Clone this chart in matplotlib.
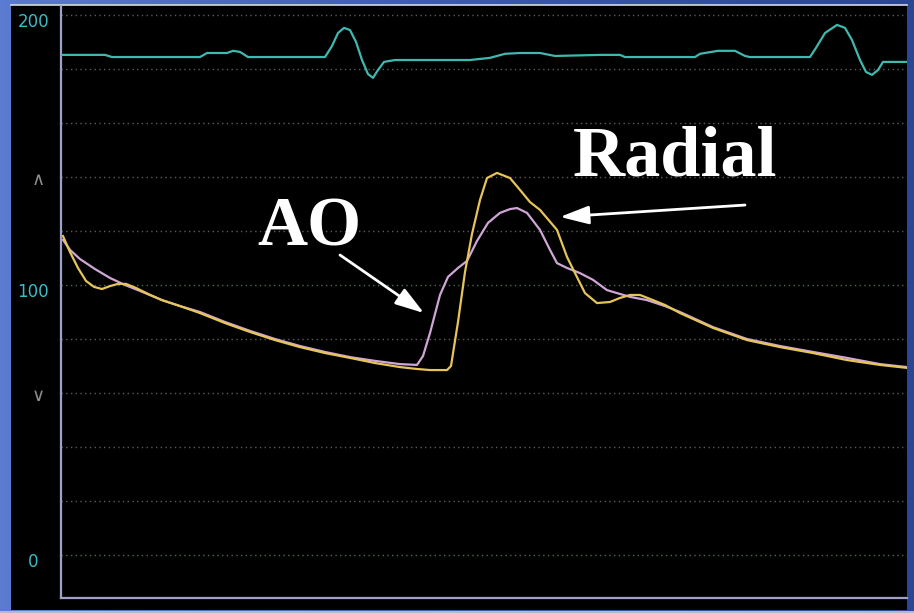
import numpy as np
import matplotlib
matplotlib.use("Agg")
import matplotlib.pyplot as plt
from matplotlib.patches import Rectangle
from matplotlib.colors import LinearSegmentedColormap
from matplotlib.transforms import blended_transform_factory, ScaledTranslation

# ---------------- data (time in ms, pressure in mmHg) ----------------
radial_t = [4, 18, 34, 50, 66, 82, 98, 114, 130, 150, 174, 202, 238, 278, 328, 378, 428, 478, 528, 578,
            628, 678, 712, 738, 772, 780, 794, 808, 822, 838, 852, 872, 898, 918, 938, 958, 992, 1012, 1028, 1048,
            1072, 1098, 1118, 1138, 1158, 1184, 1208, 1238, 1304, 1372, 1438, 1504, 1572, 1638, 1692]
radial_p = [118.1, 112.2, 106.3, 101.5, 99.3, 98.5, 99.6, 100.4, 100.4, 98.9, 96.7, 94.4, 92.2, 89.6, 85.9, 82.6, 79.6, 77.0, 74.8, 73.0,
            71.1, 69.6, 68.9, 68.5, 68.5, 70.0, 86.3, 104.8, 118.9, 131.5, 139.6, 141.5, 139.6, 135.2, 130.7, 127.8, 120.4, 110.4, 104.4, 97.0,
            93.3, 93.7, 95.2, 96.3, 96.3, 94.4, 92.6, 89.6, 84.1, 79.6, 77.0, 74.8, 72.2, 70.4, 69.3]

ao_t = [4, 18, 38, 68, 98, 128, 158, 202, 238, 278, 328, 378, 428, 478, 528, 578, 628, 678, 712, 724,
        738, 758, 774, 794, 812, 832, 854, 878, 898, 912, 932, 958, 978, 992, 1012, 1038, 1064, 1092, 1112, 1138,
        1172, 1208, 1238, 1304, 1372, 1438, 1504, 1572, 1638, 1692]
ao_p = [116.7, 113.0, 109.6, 105.9, 102.6, 100.0, 97.8, 94.4, 92.2, 90.0, 86.3, 83.0, 80.0, 77.4, 75.2, 73.3, 71.9, 70.7, 70.4, 73.7,
        82.2, 96.3, 103.0, 106.3, 108.9, 116.3, 123.0, 126.7, 128.1, 128.5, 126.7, 120.4, 113.0, 108.1, 106.3, 104.4, 101.9, 98.1, 97.0, 95.6,
        94.4, 92.2, 90.0, 84.4, 80.0, 77.4, 75.2, 73.0, 70.7, 69.6]

ecg_t = [2, 88, 102, 278, 292, 332, 344, 358, 374, 528, 542, 554, 566, 578, 590, 602, 614, 624, 634, 646,
         668, 818, 858, 888, 918, 958, 988, 1078, 1118, 1128, 1268, 1278, 1314, 1348, 1368, 1378, 1498, 1510, 1528, 1552,
         1568, 1582, 1598, 1610, 1622, 1634, 1644, 1692]
ecg_v = [185.2, 185.2, 184.4, 184.4, 185.9, 185.9, 186.7, 186.3, 184.4, 184.4, 188.5, 193.3, 195.2, 194.4, 190.0, 183.3, 178.1, 176.7, 179.6, 182.6,
         183.3, 183.3, 184.1, 185.6, 185.9, 185.9, 184.8, 185.2, 185.2, 184.4, 184.4, 185.6, 186.7, 186.7, 184.8, 184.4, 184.4, 187.8, 193.3, 196.3,
         195.2, 190.7, 183.3, 178.9, 177.8, 179.6, 182.6, 182.6]

ytick_vals = [0, 100, 200]
ytick_labels = ["0", "100", "200"]
grid_levels = [0, 20, 40, 60, 80, 100, 120, 140, 160, 180, 200]
alarm_high = 139
alarm_low = 59

# ---------------- figure ----------------
W, H = 914, 613
fig = plt.figure(figsize=(W / 100, H / 100), dpi=100)

# blue slide background gradient + black monitor panel
bg = fig.add_axes([0, 0, 1, 1], zorder=0)
cmap = LinearSegmentedColormap.from_list("bg", ["#5a7bd0", "#3a5aae", "#2a4694"])
bg.imshow(np.linspace(0, 1, 256)[None, :], aspect="auto", cmap=cmap, extent=[0, 1, 0, 1], zorder=0)
bg.add_patch(Rectangle((11 / W, 3 / H), 896 / W, 605 / H, facecolor="black", edgecolor="none", zorder=1))
bg.plot([11 / W, 907 / W], [(H - 4.5) / H] * 2, color="#d8d8e6", lw=1.2, zorder=2)
bg.plot([0, 1], [1.5 / H] * 2, color="#b8b8c4", lw=2.2, zorder=2)
bg.set_xlim(0, 1)
bg.set_ylim(0, 1)
bg.set_axis_off()

ax = fig.add_axes([61 / W, 15 / H, 846 / W, 592 / H], zorder=2)
ax.set_facecolor("black")
ax.set_xlim(0, 1692)
ax.set_ylim(-15.9, 203.3)

for s in ["top", "right"]:
    ax.spines[s].set_visible(False)
for s in ["left", "bottom"]:
    ax.spines[s].set_color("#a0a0cc")
    ax.spines[s].set_linewidth(1.6)

# dotted grid
for g in grid_levels:
    col = "#4f6a4f" if g in (0, 100) else "#5c5c5c"
    ax.axhline(g, color=col, lw=1.0, ls=(0, (1, 2.4)), zorder=1)

ax.set_xticks([])
ax.set_yticks(ytick_vals)
ax.set_yticklabels(ytick_labels, color="#3cbcc4", fontsize=12, fontfamily="DejaVu Sans")
ax.tick_params(axis="y", length=0, pad=20)
shift = ScaledTranslation(0, -3.5 / 72, fig.dpi_scale_trans)
for lab in ax.get_yticklabels():
    lab.set_horizontalalignment("center")
    lab.set_transform(lab.get_transform() + shift)

# alarm chevrons on the left
trans = blended_transform_factory(ax.transAxes, ax.transData)
ax.text(-23 / 846, alarm_high, "\u2227", transform=trans, ha="center", va="center",
        color="#8c8c8c", fontsize=13, clip_on=False)
ax.text(-23 / 846, alarm_low, "\u2228", transform=trans, ha="center", va="center",
        color="#8c8c8c", fontsize=13, clip_on=False)

# traces
ax.plot(ecg_t, ecg_v, color="#3fb8b0", lw=1.6, zorder=3, solid_joinstyle="round")
ax.plot(ao_t, ao_p, color="#cfa6d6", lw=1.6, zorder=3, solid_joinstyle="round")
ax.plot(radial_t, radial_p, color="#e6c458", lw=1.6, zorder=4, solid_joinstyle="round")

# annotations
ax.text(392, 114.8, "AO", color="white", fontsize=50, fontweight="bold",
        fontfamily="Liberation Serif", ha="left", va="baseline", zorder=5)
ax.text(1024, 140.4, "Radial", color="white", fontsize=52, fontweight="bold",
        fontfamily="Liberation Serif", ha="left", va="baseline", zorder=5)

ax.annotate("", xy=(726, 89.6), xytext=(558, 111.1),
            arrowprops=dict(arrowstyle="-|>,head_length=1.1,head_width=0.35", color="white",
                            lw=2, mutation_scale=16, shrinkA=0, shrinkB=0), zorder=5)
ax.annotate("", xy=(998, 125.2), xytext=(1368, 129.6),
            arrowprops=dict(arrowstyle="-|>,head_length=1.1,head_width=0.35", color="white",
                            lw=2, mutation_scale=16, shrinkA=0, shrinkB=0), zorder=5)

fig.savefig("out.png", dpi=100)
